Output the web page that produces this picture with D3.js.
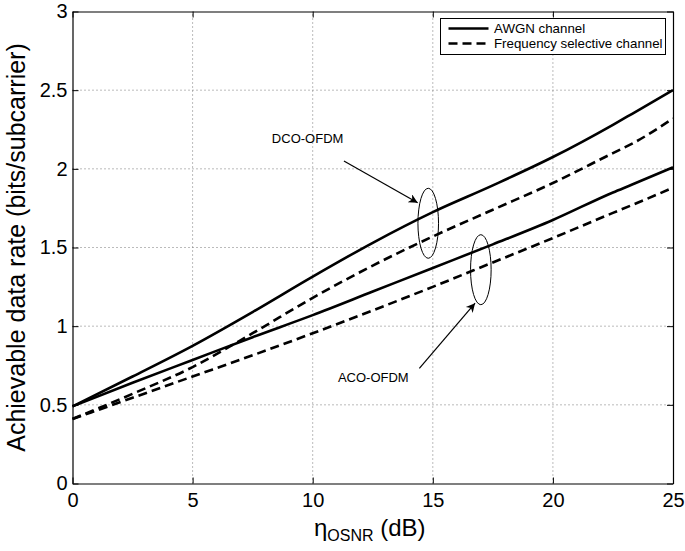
<!DOCTYPE html>
<html>
<head>
<meta charset="utf-8">
<script src="https://cdn.jsdelivr.net/npm/d3@7"></script>
<style>
  body { margin: 0; background: #fff; }
  svg { font-family: "Liberation Sans", Arial, Helvetica, sans-serif; }
</style>
</head>
<body>
<script>
// x values (dB)
var osnr = [0, 2.5, 5, 7.5, 10, 12.5, 15, 17.5, 20, 22.5, 23.3, 25];

// achievable data rate (bits/subcarrier)
var dcoAwgn = [0.49, 0.68, 0.875, 1.09, 1.315, 1.53, 1.725, 1.895, 2.075, 2.28, 2.35, 2.50];
var dcoFreq = [0.41, 0.57, 0.74, 0.955, 1.18, 1.385, 1.57, 1.74, 1.91, 2.10, 2.16, 2.32];
var acoAwgn = [0.49, 0.64, 0.785, 0.93, 1.07, 1.22, 1.37, 1.52, 1.675, 1.85, 1.90, 2.01];
var acoFreq = [0.41, 0.545, 0.68, 0.815, 0.955, 1.10, 1.25, 1.405, 1.56, 1.72, 1.77, 1.88];

var xTicks = [0, 5, 10, 15, 20, 25],
    yTicks = [0, 0.5, 1, 1.5, 2, 2.5, 3];

var w = 685,
    h = 551,
    margin = {top: 11.5, right: 12, bottom: 67.5, left: 72.5};

var svg = d3.select("body")
    .append("svg")
    .attr("width", w)
    .attr("height", h);

var x = d3.scaleLinear().domain([0, 25]).range([margin.left, w - margin.right]);
var y = d3.scaleLinear().domain([0, 3]).range([h - margin.bottom, margin.top]);

// grid
svg.append("g")
    .selectAll("line")
    .data(xTicks.slice(1, -1))
    .enter()
    .append("line")
    .attr("x1", function (d) { return x(d); })
    .attr("x2", function (d) { return x(d); })
    .attr("y1", y(0))
    .attr("y2", y(3))
    .attr("stroke", "#777")
    .attr("stroke-width", 1)
    .attr("stroke-dasharray", "1,3");

svg.append("g")
    .selectAll("line")
    .data(yTicks.slice(1, -1))
    .enter()
    .append("line")
    .attr("y1", function (d) { return y(d); })
    .attr("y2", function (d) { return y(d); })
    .attr("x1", x(0))
    .attr("x2", x(25))
    .attr("stroke", "#777")
    .attr("stroke-width", 1)
    .attr("stroke-dasharray", "1,3");

// axes with inward ticks
var tickLen = 6,
    fmt = function (d) { return String(d); };
var axBottom = svg.append("g")
    .attr("transform", "translate(0," + y(0) + ")")
    .call(d3.axisBottom(x).tickValues(xTicks).tickSizeInner(-tickLen).tickSizeOuter(0).tickPadding(9).tickFormat(fmt));
var axTop = svg.append("g")
    .attr("transform", "translate(0," + y(3) + ")")
    .call(d3.axisTop(x).tickValues(xTicks).tickSizeInner(-tickLen).tickSizeOuter(0).tickFormat(""));
var axLeft = svg.append("g")
    .attr("transform", "translate(" + x(0) + ",0)")
    .call(d3.axisLeft(y).tickValues(yTicks).tickSizeInner(-tickLen).tickSizeOuter(0).tickPadding(5).tickFormat(fmt));
var axRight = svg.append("g")
    .attr("transform", "translate(" + x(25) + ",0)")
    .call(d3.axisRight(y).tickValues(yTicks).tickSizeInner(-tickLen).tickSizeOuter(0).tickFormat(""));

[axBottom, axTop, axLeft, axRight].forEach(function (g) {
    g.select(".domain").attr("stroke", "#000").attr("stroke-width", 1.2);
    g.selectAll(".tick line").attr("stroke", "#000");
    g.selectAll("text")
        .attr("font-size", "20px")
        .attr("fill", "#000")
        .attr("font-family", "Liberation Sans, Arial, sans-serif");
});

// curves
var series = [
    {v: dcoAwgn, dash: null},
    {v: dcoFreq, dash: "9,5"},
    {v: acoAwgn, dash: null},
    {v: acoFreq, dash: "9,5"}
];

var line = d3.line()
    .x(function (d) { return x(d[0]); })
    .y(function (d) { return y(d[1]); })
    .curve(d3.curveMonotoneX);

svg.selectAll("path.curve")
    .data(series)
    .enter()
    .append("path")
    .attr("class", "curve")
    .attr("d", function (s) { return line(osnr.map(function (o, i) { return [o, s.v[i]]; })); })
    .attr("fill", "none")
    .attr("stroke", "#000")
    .attr("stroke-width", 2.6)
    .attr("stroke-dasharray", function (s) { return s.dash; });

// annotations
svg.append("defs").append("marker")
    .attr("id", "arr")
    .attr("viewBox", "0 0 10 10")
    .attr("refX", 10)
    .attr("refY", 5)
    .attr("markerWidth", 13)
    .attr("markerHeight", 9)
    .attr("markerUnits", "userSpaceOnUse")
    .attr("orient", "auto")
    .append("path")
    .attr("d", "M0,0 L10,5 L0,10 L3,5 Z")
    .attr("fill", "#000");

var notes = [
    {label: "DCO-OFDM", tx: 8.3, ty: 2.165, ax: 11.3, ay: 2.05, bx: 14.37, by: 1.785, cx: 14.81, cy: 1.654},
    {label: "ACO-OFDM", tx: 11.05, ty: 0.643, ax: 14.44, ay: 0.732, bx: 16.76, by: 1.146, cx: 17.0, cy: 1.359}
];

notes.forEach(function (n) {
    svg.append("ellipse")
        .attr("cx", x(n.cx))
        .attr("cy", y(n.cy))
        .attr("rx", 10.3)
        .attr("ry", 35)
        .attr("fill", "none")
        .attr("stroke", "#000")
        .attr("stroke-width", 1);
    svg.append("line")
        .attr("x1", x(n.ax))
        .attr("y1", y(n.ay))
        .attr("x2", x(n.bx))
        .attr("y2", y(n.by))
        .attr("stroke", "#000")
        .attr("stroke-width", 1.2)
        .attr("marker-end", "url(#arr)");
    svg.append("text")
        .attr("x", x(n.tx))
        .attr("y", y(n.ty))
        .attr("font-size", "13px")
        .text(n.label);
});

// legend
var lg = svg.append("g").attr("transform", "translate(440.5,18.5)");
lg.append("rect")
    .attr("width", 225)
    .attr("height", 36)
    .attr("fill", "#fff")
    .attr("stroke", "#000")
    .attr("stroke-width", 1);
var legendItems = [
    {label: "AWGN channel", dash: null},
    {label: "Frequency selective channel", dash: "9,5"}
];
legendItems.forEach(function (d, i) {
    lg.append("line")
        .attr("x1", 8)
        .attr("x2", 48)
        .attr("y1", 10 + i * 15)
        .attr("y2", 10 + i * 15)
        .attr("stroke", "#000")
        .attr("stroke-width", 2.6)
        .attr("stroke-dasharray", d.dash);
    lg.append("text")
        .attr("x", 53.5)
        .attr("y", 14.5 + i * 15)
        .attr("font-size", "13.3px")
        .text(d.label);
});

// axis titles
svg.append("text")
    .attr("transform", "translate(25," + ((y(0) + y(3)) / 2) + ") rotate(-90)")
    .attr("text-anchor", "middle")
    .attr("font-size", "25px")
    .text("Achievable data rate (bits/subcarrier)");

var xt = svg.append("text")
    .attr("x", x(12.5) - 3)
    .attr("y", 536)
    .attr("text-anchor", "middle")
    .attr("font-size", "24px");
xt.append("tspan").text("\u03b7");
xt.append("tspan").attr("font-size", "16px").attr("dy", 5).text("OSNR");
xt.append("tspan").attr("dy", -5).text(" (dB)");
</script>
</body>
</html>
